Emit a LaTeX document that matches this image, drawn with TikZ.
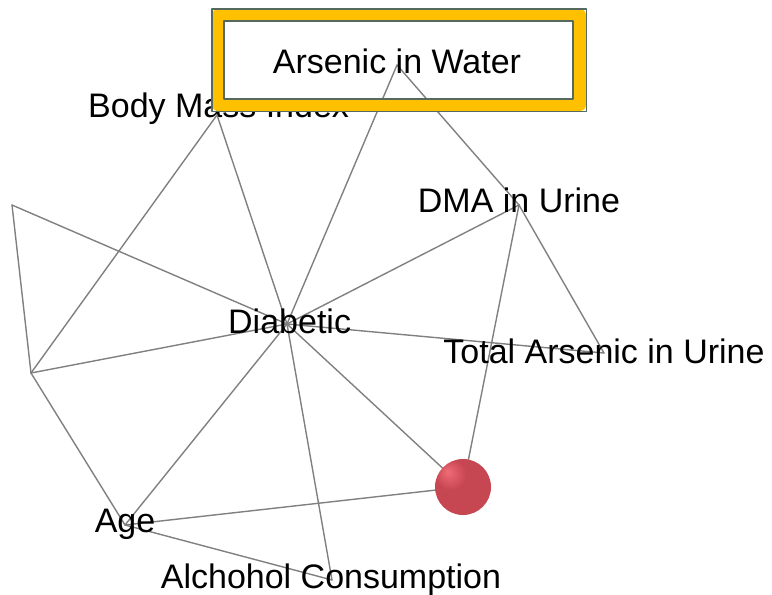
\documentclass[tikz,border=0pt]{standalone}
\usepackage{fontspec}
\setmainfont{Liberation Sans}
\definecolor{edgegray}{RGB}{128,128,128}
\definecolor{boxyellow}{RGB}{255,192,0}
\definecolor{boxline}{RGB}{85,105,95}
\definecolor{ballhi}{RGB}{240,108,118}
\definecolor{ballmid}{RGB}{198,70,82}
\definecolor{balldark}{RGB}{150,45,55}
\pgfdeclareradialshading{redball}{\pgfpoint{-14bp}{14bp}}{color(0bp)=(ballhi); color(14bp)=(ballmid); color(38bp)=(ballmid); color(68bp)=(balldark)}

\begin{document}
\begin{tikzpicture}[x=1pt,y=-1pt,line cap=round,line join=round,
  link/.style={draw=edgegray,line width=1.4pt},
  lbl/.style={font=\fontsize{34}{40}\selectfont,inner sep=0pt,anchor=base}]
\useasboundingbox (0,0) rectangle (772,595);
% graph vertices
\coordinate (water) at (397,65);
\coordinate (bmi) at (217,115);
\coordinate (dma) at (519,205);
\coordinate (total) at (604,353);
\coordinate (diab) at (287,324);
\coordinate (hidA) at (12,205);
\coordinate (hidB) at (31,373);
\coordinate (age) at (125,525);
\coordinate (alc) at (332,580);
\coordinate (red) at (463,487);
% label under the box
\node[lbl,anchor=base west] (bmilbl) at (88,117) {Body Mass Index};
\fill[white] (224,21) rectangle (573,99);
% connectors
\foreach \a/\b in {water/diab,water/dma,bmi/diab,bmi/hidB,hidA/hidB,hidA/diab,
  hidB/diab,hidB/age,diab/dma,diab/total,diab/red,diab/age,diab/alc,
  dma/total,dma/red,age/red,age/alc}
  \draw[link] (\a) -- (\b);
% selection box
\draw[boxyellow,line width=12pt] (218,15) rectangle (580,105);
\draw[boxline,line width=1.2pt] (212,9) rectangle (586.5,111.5);
\draw[boxline,line width=1.2pt] (224,21) rectangle (573,99);
% labels
\node[lbl] (waterlbl) at (397,73) {Arsenic in Water};
\node[lbl] (dmalbl) at (519,212) {DMA in Urine};
\node[lbl,anchor=base west] (diablbl) at (228,333) {Diabetic};
\node[lbl] (totallbl) at (604,363) {Total Arsenic in Urine};
\node[lbl] (agelbl) at (125,532) {Age};
\node[lbl] (alclbl) at (331,588) {Alchohol Consumption};
\shade[shading=redball] (red) circle (28);
\end{tikzpicture}
\end{document}
